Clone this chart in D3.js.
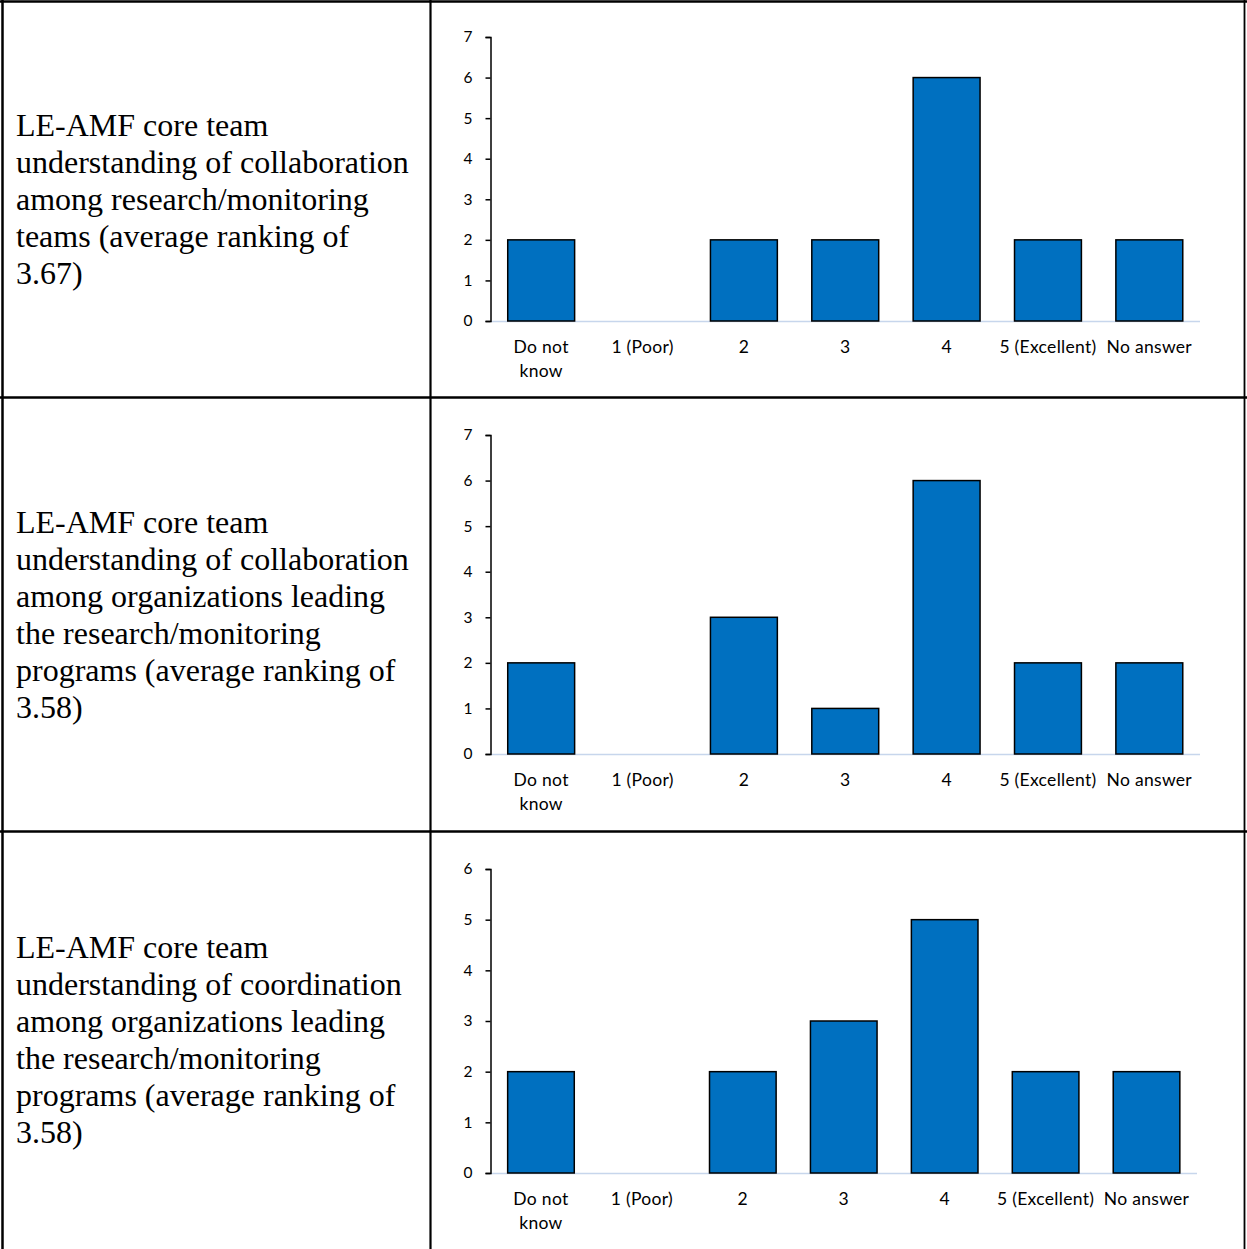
<!DOCTYPE html>
<html>
<head>
<meta charset="utf-8">
<script src="https://cdn.jsdelivr.net/npm/d3@7"></script>
<style>
  html, body { margin: 0; padding: 0; background: #fff; }
  svg { display: block; }
</style>
</head>
<body>
<svg id="page" width="1247" height="1249"></svg>
<script>
// Rating categories shared by all three questions
const categories = ["Do not know", "1 (Poor)", "2", "3", "4", "5 (Excellent)", "No answer"];

// Response counts per question
const collabTeams = [2, 0, 2, 2, 6, 2, 2];
const collabOrgs = [2, 0, 3, 1, 6, 2, 2];
const coordOrgs = [2, 0, 2, 3, 5, 2, 2];

// Y-axis maxima and question texts
const yMax = [7, 7, 6];
const questions = [
  ["LE-AMF core team", "understanding of collaboration", "among research/monitoring", "teams (average ranking of", "3.67)"],
  ["LE-AMF core team", "understanding of collaboration", "among organizations leading", "the research/monitoring", "programs (average ranking of", "3.58)"],
  ["LE-AMF core team", "understanding of coordination", "among organizations leading", "the research/monitoring", "programs (average ranking of", "3.58)"]
];
const seriesList = [collabTeams, collabOrgs, coordOrgs];

const svg = d3.select("#page");

// Table geometry
const rowEdges = [1.5, 397.5, 831.5, 1249];
const colDivider = 430.5;
const tableLeft = 2.5, tableRight = 1244.5;

// Per-chart plot area: top/bottom pixel rows of the value axis
const plots = [
  { top: 37, bottom: 321, right: 1200 },
  { top: 435, bottom: 754, right: 1200 },
  { top: 869, bottom: 1173, right: 1197 }
];
const axisX = 490.5;

const labelFont = "Lato, 'Open Sans', 'Noto Sans', sans-serif";

// Table borders
const grid = svg.append("g").attr("stroke", "#000").attr("fill", "none");
grid.append("line").attr("x1", 0).attr("x2", 1247).attr("y1", rowEdges[0]).attr("y2", rowEdges[0]).attr("stroke-width", 2.5);
grid.append("line").attr("x1", tableLeft).attr("x2", tableLeft).attr("y1", 0).attr("y2", 1249).attr("stroke-width", 2.5);
grid.append("line").attr("x1", tableRight).attr("x2", tableRight).attr("y1", 0).attr("y2", 1249).attr("stroke-width", 1.8);
grid.append("line").attr("x1", colDivider).attr("x2", colDivider).attr("y1", 0).attr("y2", 1249).attr("stroke-width", 2.2);
[rowEdges[1], rowEdges[2]].forEach(y => {
  grid.append("line").attr("x1", 0).attr("x2", 1247).attr("y1", y).attr("y2", y).attr("stroke-width", 2.5);
});

questions.forEach((lines, i) => {
  // Question text, vertically centred in its row
  const lineH = 37;
  const rowMid = (rowEdges[i] + rowEdges[i + 1]) / 2;
  const firstY = rowMid - (lines.length - 1) * lineH / 2;
  const t = svg.append("text")
    .attr("font-family", "'Liberation Serif', 'Times New Roman', serif")
    .attr("font-size", 32)
    .attr("fill", "#000");
  lines.forEach((s, k) => {
    t.append("tspan").attr("x", 16).attr("y", firstY + k * lineH).attr("dy", "0.33em").text(s);
  });

  // Bar chart
  const p = plots[i];
  const data = seriesList[i];
  const x = d3.scaleBand().domain(categories).range([axisX, p.right]).paddingInner(0.34).paddingOuter(0.17);
  const y = d3.scaleLinear().domain([0, yMax[i]]).range([p.bottom, p.top]);
  const g = svg.append("g");

  // Category baseline
  g.append("line")
    .attr("x1", axisX).attr("x2", p.right)
    .attr("y1", p.bottom + 0.5).attr("y2", p.bottom + 0.5)
    .attr("stroke", "#c7d6ec").attr("stroke-width", 1.5);

  // Bars
  g.selectAll("rect").data(data.map((v, k) => ({ c: categories[k], v })).filter(d => d.v > 0))
    .join("rect")
    .attr("x", d => x(d.c))
    .attr("width", x.bandwidth())
    .attr("y", d => y(d.v))
    .attr("height", d => y(0) - y(d.v))
    .attr("fill", "#0070c0")
    .attr("stroke", "#000")
    .attr("stroke-width", 1.5);

  // Value axis
  const ya = g.append("g").attr("transform", `translate(${axisX},0)`)
    .call(d3.axisLeft(y).ticks(yMax[i]).tickSize(5).tickPadding(13).tickFormat(d3.format("d")));
  ya.select(".domain").attr("stroke", "#000").attr("stroke-width", 1.5);
  ya.selectAll(".tick line").attr("stroke", "#000").attr("stroke-width", 1.5);
  ya.selectAll(".tick text").attr("font-family", labelFont).attr("font-size", 15.5).attr("fill", "#000");

  // Category labels, wrapped like the source layout
  const wrap = { "Do not know": ["Do not", "know"] };
  categories.forEach(c => {
    const parts = wrap[c] || [c];
    const lt = g.append("text")
      .attr("text-anchor", "middle")
      .attr("font-family", labelFont)
      .attr("font-size", 17.5)
      .attr("letter-spacing", 0.3)
      .attr("fill", "#000");
    parts.forEach((s, k) => {
      lt.append("tspan")
        .attr("x", x(c) + x.bandwidth() / 2)
        .attr("y", p.bottom + 26 + k * 24)
        .attr("dy", "0.35em")
        .text(s);
    });
  });
});
</script>
</body>
</html>
